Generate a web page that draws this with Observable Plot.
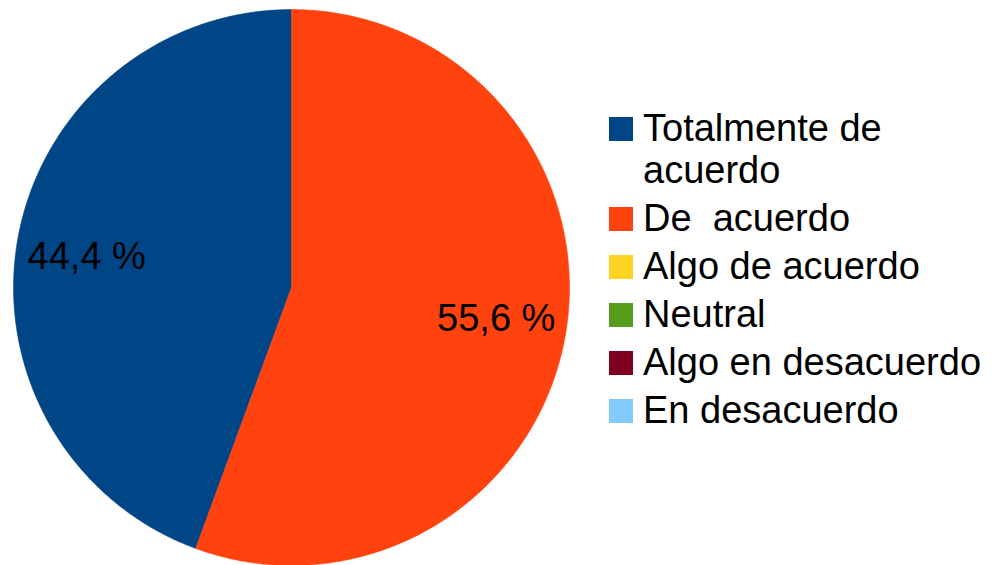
<!DOCTYPE html>
<html>
<head>
<meta charset="utf-8">
<script src="https://cdn.jsdelivr.net/npm/d3@7"></script>
<script src="https://cdn.jsdelivr.net/npm/@observablehq/plot@0.6"></script>
<style>
  html, body { margin: 0; padding: 0; background: #fff; }
  #wrap { position: relative; width: 993px; height: 565px; overflow: hidden; font-family: "Liberation Sans", Arial, sans-serif; }
  #legend { position: absolute; left: 609px; top: 107px; width: 384px; }
  .item { position: relative; padding-left: 34px; margin-bottom: 6px; font-size: 38px; line-height: 42px; color: #000; white-space: pre-wrap; width: 350px; }
  .sw { position: absolute; left: 0; top: 10px; width: 24px; height: 24px; }
</style>
</head>
<body>
<div id="wrap"></div>
<script>
const categories = ["Totalmente de acuerdo", "De  acuerdo", "Algo de acuerdo", "Neutral", "Algo en desacuerdo", "En desacuerdo"];
const values = [44.4, 55.6, 0, 0, 0, 0];
const labels = ["44,4 %", "55,6 %", "", "", "", ""];
const colors = ["#004586", "#ff420e", "#ffd320", "#579d1c", "#7e0021", "#83caff"];

// Build slices: start at top, go counterclockwise
const total = d3.sum(values);
let acc = 0;
const slices = categories.map((c, i) => {
  const a0 = acc / total * 2 * Math.PI;
  acc += values[i];
  const a1 = acc / total * 2 * Math.PI;
  return {category: c, value: values[i], label: labels[i], a0, a1};
}).filter(d => d.value > 0);

const outline = [];
for (const s of slices) {
  outline.push({category: s.category, x: 0, y: 0});
  const n = Math.max(2, Math.ceil((s.a1 - s.a0) / (Math.PI / 360)));
  for (let k = 0; k <= n; k++) {
    const a = s.a0 + (s.a1 - s.a0) * k / n;
    outline.push({category: s.category, x: -Math.sin(a), y: Math.cos(a)});
  }
  outline.push({category: s.category, x: 0, y: 0});
}
const labelPts = slices.map(s => {
  const m = (s.a0 + s.a1) / 2 + 0.025;
  return {label: s.label, x: -Math.sin(m) * 0.745, y: Math.cos(m) * 0.745};
});

const plot = Plot.plot({
  width: 993,
  height: 565,
  margin: 0,
  x: {domain: [-1, 1], range: [13, 569], axis: null},
  y: {domain: [-1, 1], range: [565, 9], axis: null},
  color: {domain: categories, range: colors},
  style: {fontFamily: "Liberation Sans, Arial, sans-serif", background: "#fff"},
  marks: [
    Plot.line(outline, {x: "x", y: "y", z: "category", fill: "category", stroke: "category", strokeWidth: 0.5, curve: "linear"}),
    Plot.text(labelPts, {x: "x", y: "y", text: "label", fontSize: 38, fill: "#000"})
  ]
});

const wrap = document.getElementById("wrap");
wrap.appendChild(plot);
const legend = document.createElement("div");
legend.id = "legend";
categories.forEach((c, i) => {
  const it = document.createElement("div");
  it.className = "item";
  const sw = document.createElement("div");
  sw.className = "sw";
  sw.style.background = colors[i];
  it.appendChild(sw);
  it.appendChild(document.createTextNode(c));
  legend.appendChild(it);
});
wrap.appendChild(legend);
</script>
</body>
</html>
